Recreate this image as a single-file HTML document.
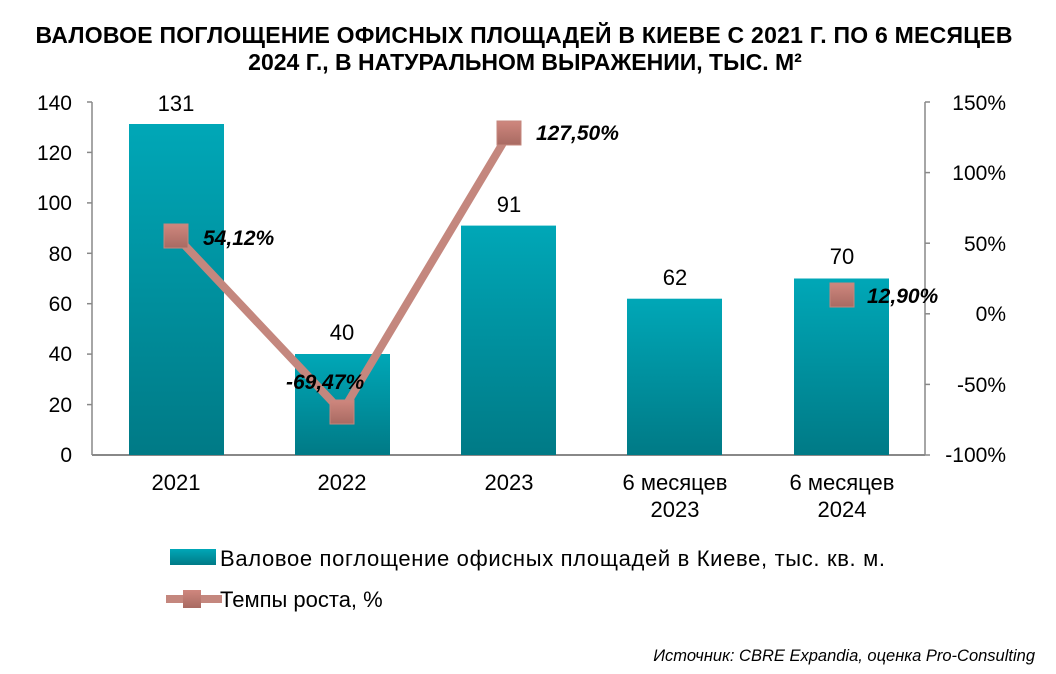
<!DOCTYPE html>
<html><head><meta charset="utf-8"><style>
body{margin:0;background:#fff;width:1056px;height:669px;overflow:hidden}
svg text{font-family:"Liberation Sans",sans-serif}
</style></head><body>
<svg width="1056" height="669" viewBox="0 0 1056 669" xmlns="http://www.w3.org/2000/svg">
<defs>
<linearGradient id="g" x1="0" y1="0" x2="0" y2="1"><stop offset="0" stop-color="#00a7b7"/><stop offset="1" stop-color="#007a86"/></linearGradient>
<linearGradient id="m" x1="0" y1="0" x2="0" y2="1"><stop offset="0" stop-color="#cf877e"/><stop offset="1" stop-color="#a86a62"/></linearGradient>
</defs>
<text x="524" y="43" text-anchor="middle" font-size="23" font-weight="bold" textLength="977">ВАЛОВОЕ ПОГЛОЩЕНИЕ ОФИСНЫХ ПЛОЩАДЕЙ В КИЕВЕ С 2021 Г. ПО 6 МЕСЯЦЕВ</text>
<text x="525" y="70" text-anchor="middle" font-size="23" font-weight="bold">2024 Г., В НАТУРАЛЬНОМ ВЫРАЖЕНИИ, ТЫС. М²</text>
<g stroke="#888" stroke-width="1.5">
<line x1="92" y1="102" x2="92" y2="455"/><line x1="925" y1="102" x2="925" y2="455"/>
<line x1="92" y1="455" x2="925" y2="455" stroke-width="2"/>
<line x1="87" y1="102" x2="92" y2="102"/><line x1="87" y1="152.4" x2="92" y2="152.4"/><line x1="87" y1="202.9" x2="92" y2="202.9"/><line x1="87" y1="253.3" x2="92" y2="253.3"/><line x1="87" y1="303.7" x2="92" y2="303.7"/><line x1="87" y1="354.1" x2="92" y2="354.1"/><line x1="87" y1="404.6" x2="92" y2="404.6"/>
<line x1="925" y1="102" x2="930" y2="102"/><line x1="925" y1="172.6" x2="930" y2="172.6"/><line x1="925" y1="243.2" x2="930" y2="243.2"/><line x1="925" y1="313.8" x2="930" y2="313.8"/><line x1="925" y1="384.4" x2="930" y2="384.4"/><line x1="925" y1="455" x2="930" y2="455"/>
</g>
<g font-size="21" text-anchor="end">
<text x="72" y="110">140</text><text x="72" y="160">120</text><text x="72" y="210">100</text><text x="72" y="261">80</text><text x="72" y="311">60</text><text x="72" y="361">40</text><text x="72" y="412">20</text><text x="72" y="462">0</text>
</g>
<g font-size="21" text-anchor="end">
<text x="1006" y="110">150%</text><text x="1006" y="180">100%</text><text x="1006" y="251">50%</text><text x="1006" y="321">0%</text><text x="1006" y="392">-50%</text><text x="1006" y="462">-100%</text>
</g>
<g fill="url(#g)">
<rect x="129" y="124" width="95" height="331"/>
<rect x="295" y="354" width="95" height="101"/>
<rect x="461" y="225.6" width="95" height="229.4"/>
<rect x="627" y="298.7" width="95" height="156.3"/>
<rect x="794" y="278.5" width="95" height="176.5"/>
</g>
<g font-size="22" text-anchor="middle">
<text x="176" y="111">131</text><text x="342" y="340">40</text><text x="509" y="212">91</text><text x="675" y="285">62</text><text x="842" y="264">70</text>
<text x="176" y="490">2021</text><text x="342" y="490">2022</text><text x="509" y="490">2023</text>
<text x="675" y="490">6 месяцев</text><text x="675" y="517">2023</text>
<text x="842" y="490">6 месяцев</text><text x="842" y="517">2024</text>
</g>
<polyline points="176,236 342,412 509,133" fill="none" stroke="#c4877e" stroke-width="8" stroke-linejoin="round"/>
<g fill="url(#m)" stroke="#c4877e" stroke-width="1">
<rect x="164" y="224" width="24" height="24"/><rect x="330" y="400" width="24" height="24"/><rect x="497" y="121" width="24" height="24"/><rect x="830" y="283" width="24" height="24"/>
</g>
<g font-size="21" font-weight="bold" font-style="italic">
<text x="203" y="245">54,12%</text><text x="286" y="389">-69,47%</text><text x="536" y="140">127,50%</text><text x="867" y="303">12,90%</text>
</g>
<rect x="170" y="549" width="46" height="16" fill="url(#g)"/>
<text x="220" y="566" font-size="22" textLength="665">Валовое поглощение офисных площадей в Киеве, тыс. кв. м.</text>
<line x1="166" y1="599" x2="222" y2="599" stroke="#c4877e" stroke-width="8"/>
<rect x="183" y="590" width="18" height="18" fill="url(#m)"/>
<text x="220" y="607" font-size="22">Темпы роста, %</text>
<text x="1035" y="661" text-anchor="end" font-size="16.5" font-style="italic">Источник: CBRE Expandia, оценка Pro-Consulting</text>
</svg>
</body></html>
